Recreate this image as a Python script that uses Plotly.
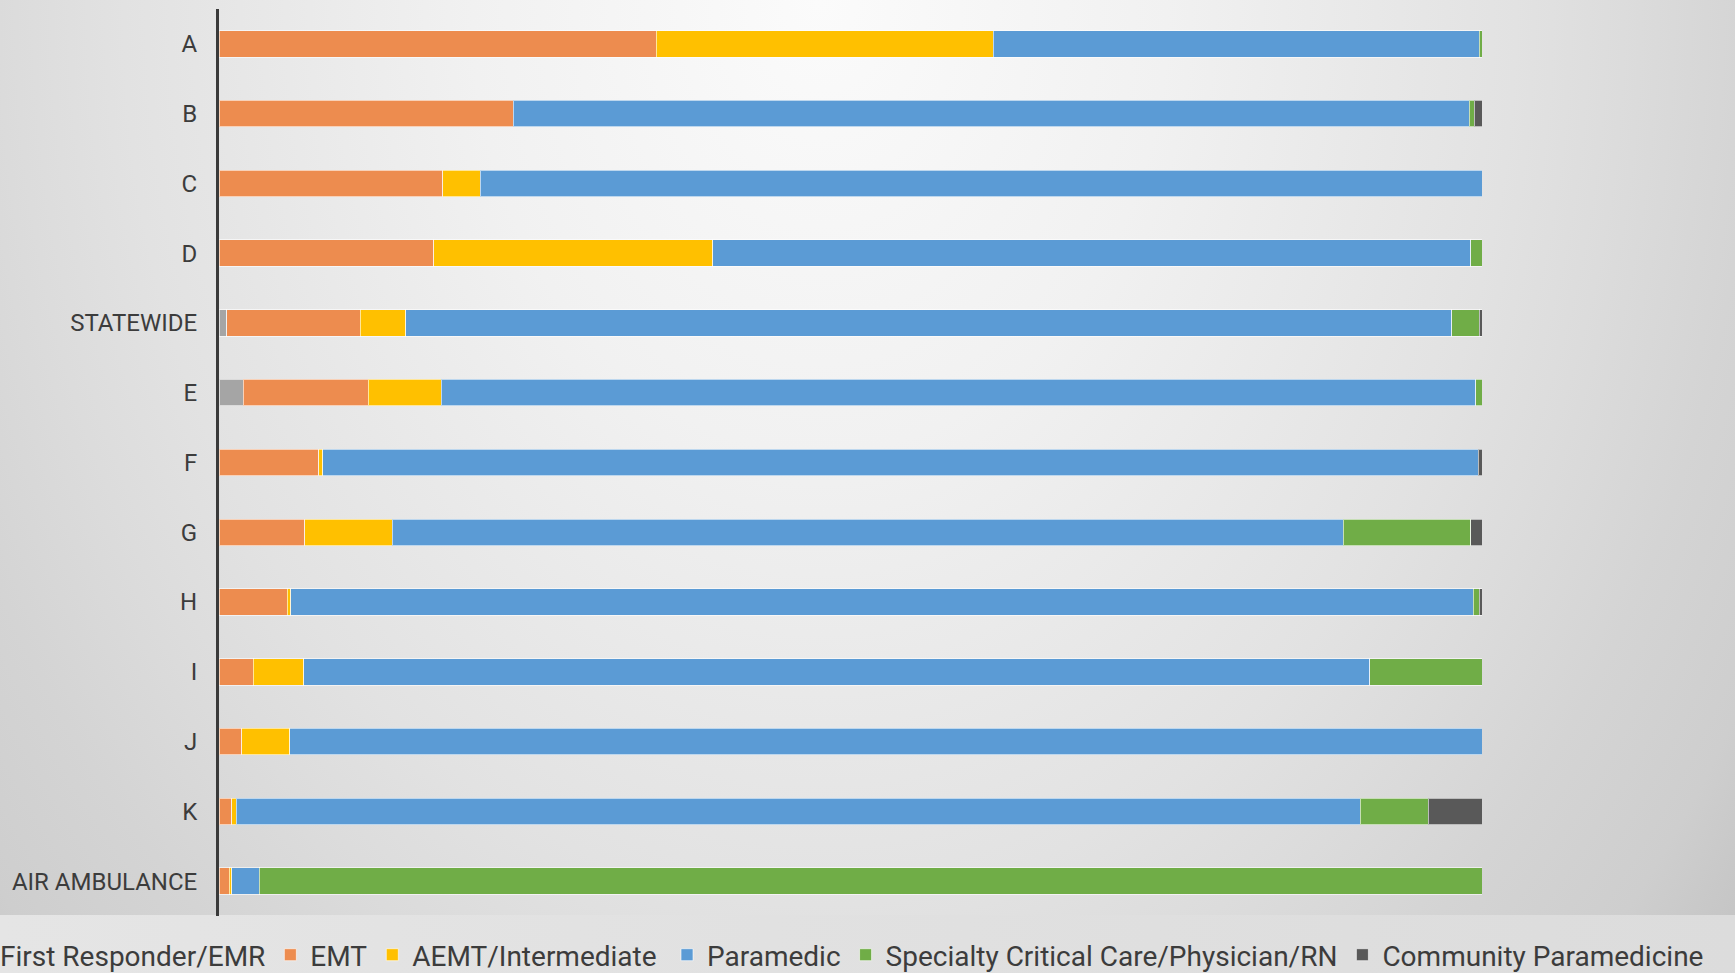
import base64
import plotly.graph_objects as go

categories = ["A", "B", "C", "D", "STATEWIDE", "E", "F", "G", "H", "I", "J", "K", "AIR AMBULANCE"]

series_names = [
    "First Responder/EMR",
    "EMT",
    "AEMT/Intermediate",
    "Paramedic",
    "Specialty Critical Care/Physician/RN",
    "Community Paramedicine",
]

first_responder = [0, 0, 0, 0, 0.6, 1.9, 0, 0, 0, 0, 0, 0, 0]
emt = [34.6, 23.3, 17.7, 17.0, 10.6, 9.9, 7.9, 6.8, 5.4, 2.7, 1.8, 1.0, 0.8]
aemt = [26.7, 0, 3.0, 22.1, 3.6, 5.8, 0.3, 6.9, 0.3, 4.0, 3.8, 0.35, 0.2]
paramedic = [38.5, 75.7, 79.3, 60.0, 82.8, 81.9, 91.5, 75.3, 93.6, 84.4, 94.4, 89.0, 2.2]
specialty = [0.2, 0.4, 0, 0.9, 2.2, 0.5, 0, 10.1, 0.5, 8.9, 0, 5.4, 96.8]
community = [0, 0.6, 0, 0, 0.2, 0, 0.3, 0.9, 0.2, 0, 0, 4.25, 0]

series_values = [first_responder, emt, aemt, paramedic, specialty, community]
series_colors = ["#A5A5A5", "#ED8C4F", "#FFC000", "#5B9BD5", "#70AD47", "#595959"]
series_legend = ["legend", "legend", "legend", "legend2", "legend2", "legend2"]

W, H = 1735, 973
L, R, T, B = 219, 1482, 9, 916
PW, PH = R - L, B - T

FONT = "Roboto"
TXT = "#3c3c3c"

fig = go.Figure()
for name, vals, col, lg in zip(series_names, series_values, series_colors, series_legend):
    fig.add_trace(go.Bar(
        y=categories, x=vals, name=name, orientation="h",
        marker=dict(color=col, line=dict(color="rgba(255,255,255,0.6)", width=1)),
        legend=lg,
    ))

svg = f'''<svg xmlns="http://www.w3.org/2000/svg" width="{W}" height="{H}" viewBox="0 0 {W} {H}">
<defs>
<radialGradient id="g" gradientUnits="userSpaceOnUse" cx="820" cy="0" r="1200"
 gradientTransform="translate(820 0) scale(1 1.3) translate(-820 0)">
<stop offset="0" stop-color="#fbfbfb"/>
<stop offset="0.29" stop-color="#f1f1f1"/>
<stop offset="0.58" stop-color="#e2e2e2"/>
<stop offset="0.67" stop-color="#dcdcdc"/>
<stop offset="0.78" stop-color="#d4d4d4"/>
<stop offset="0.89" stop-color="#cecece"/>
<stop offset="0.975" stop-color="#c4c4c4"/>
<stop offset="1" stop-color="#c2c2c2"/>
</radialGradient>
<linearGradient id="band" x1="0" y1="0" x2="1" y2="0">
<stop offset="0" stop-color="#e5e5e5"/>
<stop offset="1" stop-color="#dcdcdc"/>
</linearGradient>
</defs>
<rect x="0" y="0" width="{W}" height="{H}" fill="url(#g)"/>
<rect x="0" y="915" width="{W}" height="{H - 915}" fill="url(#band)"/>
</svg>'''
src = "data:image/svg+xml;base64," + base64.b64encode(svg.encode()).decode()

fig.update_layout(
    width=W, height=H,
    barmode="stack",
    bargap=0.62,
    margin=dict(l=L, r=W - R, t=T, b=H - B, autoexpand=False),
    paper_bgcolor="rgba(0,0,0,0)",
    plot_bgcolor="rgba(0,0,0,0)",
    font=dict(family=FONT, color=TXT, size=24),
    images=[dict(
        source=src, xref="paper", yref="paper",
        x=-L / PW, y=1 + T / PH, sizex=W / PW, sizey=H / PH,
        xanchor="left", yanchor="top", sizing="stretch", layer="below",
    )],
    xaxis=dict(range=[0, 100], visible=False, fixedrange=True),
    yaxis=dict(
        autorange="reversed", showline=True, linecolor="#3a3a3a", linewidth=3,
        ticks="", ticklabelstandoff=14, showgrid=False, zeroline=False,
        tickfont=dict(family=FONT, size=24, color=TXT), fixedrange=True,
    ),
    legend=dict(
        orientation="h", x=(-40 - L) / PW, xanchor="left",
        y=(B - 955) / PH, yanchor="middle", bgcolor="rgba(0,0,0,0)",
        font=dict(family=FONT, size=28, color=TXT), traceorder="normal",
    ),
    legend2=dict(
        orientation="h", x=(667 - L) / PW, xanchor="left",
        y=(B - 955) / PH, yanchor="middle", bgcolor="rgba(0,0,0,0)",
        font=dict(family=FONT, size=28, color=TXT), traceorder="normal",
    ),
)

fig.write_html(
    "out.html",
    config={"displayModeBar": False},
    post_script="document.body.style.margin='0';document.body.style.overflow='hidden';",
)
